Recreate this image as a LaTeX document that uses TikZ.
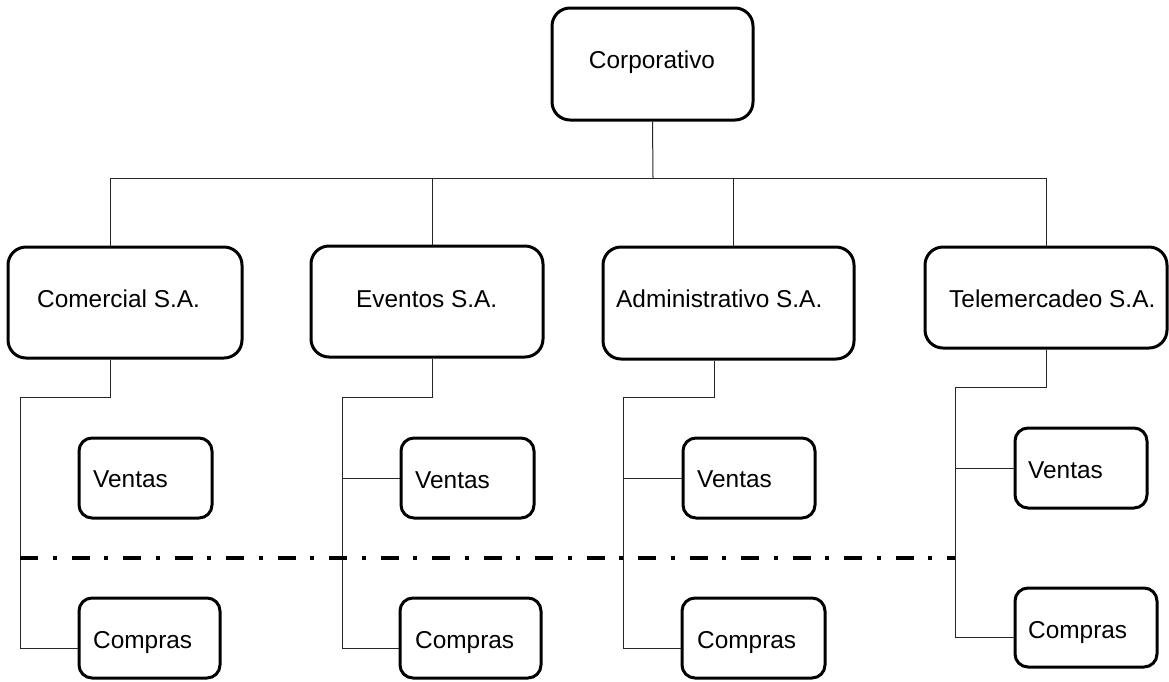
\documentclass[tikz,border=0pt]{standalone}
\usepackage{fontspec}
\setmainfont{Liberation Sans}
\usetikzlibrary{calc}

\tikzset{
  unitbox/.style={draw=black, line width=3pt, rounded corners=18pt, inner sep=0pt, fill=white},
  subbox/.style={draw=black, line width=3pt, rounded corners=13pt, inner sep=0pt, fill=white},
  boxtext/.style={inner sep=0pt, font=\fontsize{24.4}{28}\selectfont},
  link/.style={draw=black!85, line width=1pt},
  divider/.style={draw=black, line width=4pt, dash pattern=on 18pt off 14.5pt on 4pt off 15pt}
}

\begin{document}
\begin{tikzpicture}[x=1pt, y=-1pt]
  \useasboundingbox (0,0) rectangle (1169,681);

  % head office
  \node[unitbox, minimum width=201pt, minimum height=112pt] (corp) at (652.5,64) {};

  % companies
  \node[unitbox, minimum width=234pt, minimum height=111pt] (com) at (125,302.5) {};
  \node[unitbox, minimum width=232pt, minimum height=111pt] (ev)  at (427,301.5) {};
  \node[unitbox, minimum width=251pt, minimum height=112pt] (adm) at (728.5,303) {};
  \node[unitbox, minimum width=242pt, minimum height=101pt] (tel) at (1046,297.5) {};

  % departments
  \node[subbox, minimum width=133pt, minimum height=80pt] (comV) at (145.5,478) {};
  \node[subbox, minimum width=141pt, minimum height=80pt] (comC) at (149.5,638) {};
  \node[subbox, minimum width=133pt, minimum height=80pt] (evV)  at (467.5,478) {};
  \node[subbox, minimum width=141pt, minimum height=80pt] (evC)  at (470.5,638) {};
  \node[subbox, minimum width=132pt, minimum height=80pt] (admV) at (749,478) {};
  \node[subbox, minimum width=143pt, minimum height=80pt] (admC) at (753.5,638) {};
  \node[subbox, minimum width=132pt, minimum height=80pt] (telV) at (1081,468) {};
  \node[subbox, minimum width=142pt, minimum height=79pt] (telC) at (1086,627.5) {};

  % labels
  \node[boxtext, anchor=base] (corpT) at (652,68) {Corporativo};
  \node[boxtext, anchor=base west] (comT) at (37,307) {Comercial S.A.};
  \node[boxtext, anchor=base west] (evT)  at (356,307) {Eventos S.A.};
  \node[boxtext, anchor=base west] (admT) at (616,307) {Administrativo S.A.};
  \node[boxtext, anchor=base west] (telT) at (949,307) {Telemercadeo S.A.};
  \node[boxtext, anchor=base west] (comVT) at (93,487) {Ventas};
  \node[boxtext, anchor=base west] (comCT) at (93,648) {Compras};
  \node[boxtext, anchor=base west] (evVT)  at (415,488) {Ventas};
  \node[boxtext, anchor=base west] (evCT)  at (415,648) {Compras};
  \node[boxtext, anchor=base west] (admVT) at (697,487) {Ventas};
  \node[boxtext, anchor=base west] (admCT) at (697,648) {Compras};
  \node[boxtext, anchor=base west] (telVT) at (1028,478) {Ventas};
  \node[boxtext, anchor=base west] (telCT) at (1028,638) {Compras};

  % junction points
  \coordinate (bus)  at (653,178);
  \coordinate (comJ) at (20,397);
  \coordinate (evJ)  at (342,397);
  \coordinate (admJ) at (623,397);
  \coordinate (telJ) at (955,387);
  \coordinate (divL) at (20,558);
  \coordinate (divR) at (955,558);

  % upper level
  \draw[link] (corp.south) -- (bus);
  \draw[link] ([xshift=-15pt]com.north) |- (bus);
  \draw[link] (tel.north) |- (bus);
  \draw[link] ([xshift=5pt]ev.north) -- ([xshift=5pt]ev.north |- bus);
  \draw[link] ([xshift=4.5pt]adm.north) -- ([xshift=4.5pt]adm.north |- bus);

  % lower level
  \draw[link] ([xshift=-15pt]com.south) |- (comJ) |- ([yshift=-10pt]comC.west);
  \draw[link] ([xshift=5pt]ev.south) |- (evJ) |- ([yshift=-10pt]evC.west);
  \draw[link] (evJ |- evV.west) -- (evV.west);
  \draw[link] ([xshift=-14.5pt]adm.south) |- (admJ) |- ([yshift=-10pt]admC.west);
  \draw[link] (admJ |- admV.west) -- (admV.west);
  \draw[link] (tel.south) |- (telJ) |- ([yshift=-10pt]telC.west);
  \draw[link] (telJ |- telV.west) -- (telV.west);

  % dividing line
  \draw[divider] (divL) -- (divR);
\end{tikzpicture}
\end{document}
